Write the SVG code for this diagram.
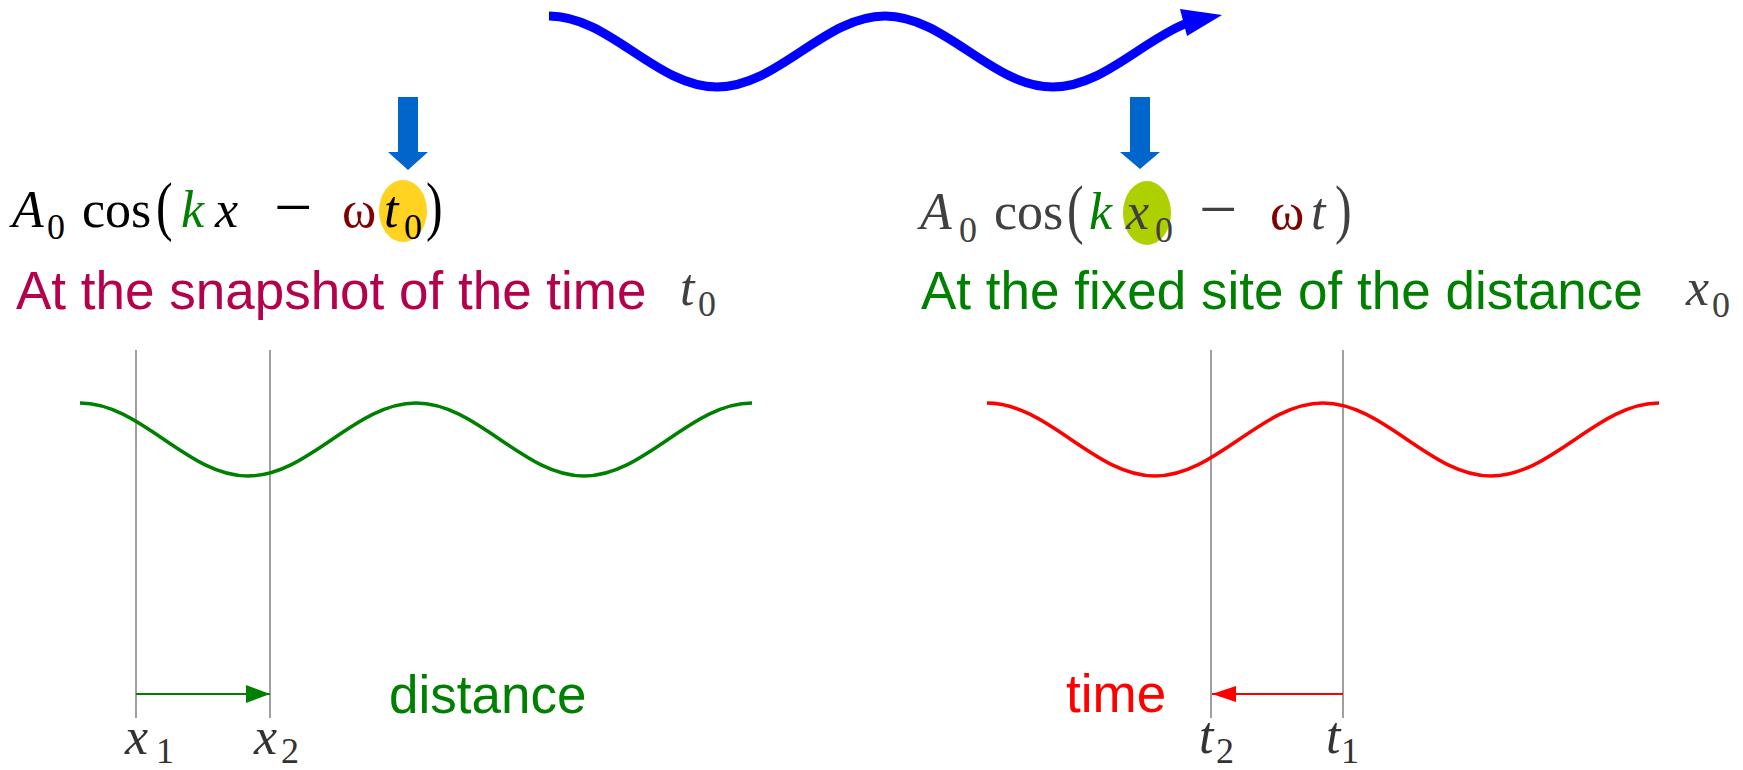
<svg xmlns="http://www.w3.org/2000/svg" width="1743" height="770" viewBox="0 0 1743 770">
<style>
.m{font-family:"Liberation Serif","Times New Roman",serif;font-size:52px}
.i{font-style:italic}
.sub{font-family:"Liberation Serif","Times New Roman",serif;font-size:36px}
.par{font-family:"Liberation Serif","Times New Roman",serif;font-size:50px}
.minus{font-family:"Liberation Serif","Times New Roman",serif;font-size:68px}
.s{font-family:"Liberation Sans",Arial,sans-serif;font-size:53px}
.vl{stroke:#888;stroke-width:1.6;fill:none}
.wave{fill:none;stroke-width:3.5}
</style>
<defs>
<marker id="ahg" markerUnits="userSpaceOnUse" markerWidth="24" markerHeight="18" refX="24" refY="9" orient="auto"><path d="M0,0 L24,9 L0,18 Z" fill="#008000"/></marker>
<marker id="ahr" markerUnits="userSpaceOnUse" markerWidth="24" markerHeight="16" refX="24" refY="8" orient="auto"><path d="M0,0 L24,8 L0,16 Z" fill="#FF0000"/></marker>
</defs>
<rect width="1743" height="770" fill="#fff"/>

<g id="travel-wave">
<path d="M549,16 C610,16 656,87 717,87 C778,87 824,16 885,16 C946,16 992,87 1053,87 C1101.8,87 1141,41.6 1186,23.4" fill="none" stroke="#0000FF" stroke-width="9"/>
<polygon points="1180,9 1222,15 1187,36" fill="#0000FF"/>
</g>

<g id="formula-left">
<text class="m i" x="12" y="227">A</text>
<text class="sub" x="47" y="239">0</text>
<text class="m" x="82" y="227">cos</text>
<text class="par" transform="translate(156,228) scale(1,1.3)">(</text>
<text class="m i" x="181" y="227" fill="#008000">k</text>
<text class="m i" x="215" y="227">x</text>
<text class="minus" x="274" y="230">−</text>
<text class="m" x="342" y="227" fill="#800000">ω</text>
<ellipse cx="403" cy="211" rx="24" ry="31" fill="#FFD320"/>
<text class="m i" x="384" y="227">t</text>
<text class="sub" x="404" y="239">0</text>
<text class="par" transform="translate(426,228) scale(1,1.3)">)</text>
</g>

<g id="formula-right" fill="#404040">
<text class="m i" x="920" y="229">A</text>
<text class="sub" x="959" y="242">0</text>
<text class="m" x="994" y="229">cos</text>
<text class="par" transform="translate(1067,231) scale(1,1.3)">(</text>
<text class="m i" x="1089" y="229" fill="#008000">k</text>
<ellipse cx="1147" cy="213" rx="24" ry="32" fill="#AECF00"/>
<text class="m i" x="1126" y="229">x</text>
<text class="sub" x="1155" y="242">0</text>
<text class="minus" x="1199" y="232">−</text>
<text class="m" x="1270" y="229" fill="#800000">ω</text>
<text class="m i" x="1311" y="229">t</text>
<text class="par" transform="translate(1335,231) scale(1,1.3)">)</text>
</g>

<g id="caption-left">
<text class="s" x="16" y="309" fill="#B5004B">At the snapshot of the time</text>
<text class="m i" x="680" y="305" fill="#404040">t</text>
<text class="sub" x="698" y="316" fill="#404040">0</text>
</g>

<g id="caption-right">
<text class="s" x="921" y="309" fill="#008000">At the fixed site of the distance</text>
<text class="m i" x="1686" y="305" fill="#404040">x</text>
<text class="sub" x="1712" y="317" fill="#404040">0</text>
</g>

<g id="graph-left">
<line class="vl" x1="136" y1="350" x2="136" y2="718"/>
<line class="vl" x1="270" y1="350" x2="270" y2="718"/>
<path class="wave" stroke="#008000" d="M80,403 C141,403 187,476 248,476 C309,476 355,403 416,403 C477,403 523,476 584,476 C645,476 691,403 752,403"/>
<text class="s" x="389" y="713" fill="#008000">distance</text>
<g fill="#333">
<text class="m i" x="125" y="754">x</text>
<text class="sub" x="156" y="763">1</text>
<text class="m i" x="254" y="754">x</text>
<text class="sub" x="281" y="763">2</text>
</g>
</g>

<g id="graph-right">
<line class="vl" x1="1211" y1="350" x2="1211" y2="718"/>
<line class="vl" x1="1343" y1="350" x2="1343" y2="718"/>
<path class="wave" stroke="#FF0000" d="M987,403 C1048,403 1094,476 1155,476 C1216,476 1262,403 1323,403 C1384,403 1430,476 1491,476 C1552,476 1598,403 1659,403"/>
<text class="s" x="1066" y="712" fill="#FF0000">time</text>
<g fill="#333">
<text class="m i" x="1199" y="753">t</text>
<text class="sub" x="1216" y="763">2</text>
<text class="m i" x="1326" y="753">t</text>
<text class="sub" x="1341" y="763">1</text>
</g>
</g>

<g id="connectors">
<path d="M398,97 L418,97 L418,152 L428,152 L408,170 L388,152 L398,152 Z" fill="#0066CC"/>
<path d="M1130,97 L1150,97 L1150,152 L1160,152 L1140,169 L1120,152 L1130,152 Z" fill="#0066CC"/>
<line x1="136" y1="694" x2="270" y2="694" stroke="#008000" stroke-width="2" marker-end="url(#ahg)"/>
<line x1="1343" y1="694" x2="1212" y2="694" stroke="#FF0000" stroke-width="2" marker-end="url(#ahr)"/>
</g>
</svg>
